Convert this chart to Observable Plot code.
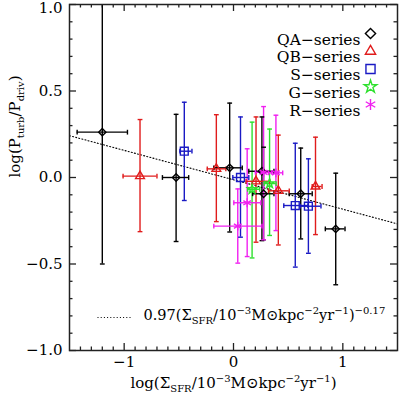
<!DOCTYPE html>
<html><head><meta charset="utf-8">
<script src="https://cdn.jsdelivr.net/npm/d3@7"></script>
<script src="https://cdn.jsdelivr.net/npm/@observablehq/plot@0.6"></script>
<style>html,body{margin:0;padding:0;background:#fff} svg{display:block}</style>
</head><body><div id="chart"></div>
<script>
// ---- series meta ----
const seriesNames = ["QA\u2212series", "QB\u2212series", "S\u2212series", "G\u2212series", "R\u2212series"];
const seriesColors = ["#000000", "#e01c1c", "#1a1ac4", "#2ee02e", "#f020f0"];
const seriesSymbols = ["diamond2", "triangle2", "square2", "star", "asterisk"];

// ---- data: x = log(SigmaSFR), y = log(Pturb/Pdriv), with error ranges ----
const qaX   = [-1.20, -0.525, -0.035, 0.26, 0.275, 0.615, 0.935];
const qaY   = [ 0.262, 0.000, 0.056, 0.036, -0.094, -0.094, -0.297];
const qaXlo = [-1.43, -0.65, -0.18, 0.14, 0.175, 0.51, 0.84];
const qaXhi = [-0.97, -0.41, 0.08, 0.37, 0.37, 0.72, 1.02];
const qaYlo = [-0.50, -0.37, -0.315, -0.365, -0.36, -0.355, -0.62];
const qaYhi = [ 1.06, 0.365, 0.43, 0.35, 0.175, 0.17, 0.025];

const qbX   = [-0.855, -0.157, 0.206, 0.41, 0.75];
const qbY   = [ 0.008, 0.050, -0.022, -0.077, -0.052];
const qbXlo = [-1.01, -0.24, 0.115, 0.32, 0.72];
const qbXhi = [-0.70, -0.07, 0.33, 0.51, 0.81];
const qbYlo = [-0.313, -0.255, -0.374, -0.39, -0.33];
const qbYhi = [ 0.335, 0.363, 0.35, 0.245, 0.233];

const sX   = [-0.45, 0.064, 0.565, 0.685];
const sY   = [ 0.152, 0.000, -0.162, -0.166];
const sXlo = [-0.49, -0.006, 0.46, 0.61];
const sXhi = [-0.38, 0.14, 0.68, 0.80];
const sYlo = [-0.133, -0.345, -0.518, -0.438];
const sYhi = [ 0.435, 0.35, 0.198, 0.108];

const gX   = [0.17, 0.33];
const gY   = [-0.068, -0.035];
const gXlo = [0.13, 0.28];
const gXhi = [0.24, 0.39];
const gYlo = [-0.465, -0.335];
const gYhi = [ 0.32, 0.28];

const rX   = [0.039, 0.125, 0.275, 0.388];
const rY   = [-0.281, -0.146, 0.030, 0.027];
const rXlo = [-0.18, 0.003, 0.20, 0.32];
const rXhi = [ 0.26, 0.25, 0.35, 0.45];
const rYlo = [-0.495, -0.457, -0.36, -0.307];
const rYhi = [-0.066, 0.166, 0.41, 0.36];

// fit: 0.97 (Sigma/1e-3)^-0.17
const fitCoef = 0.97, fitSlope = -0.17;
const fitXs = [-1.5, 1.5];

// ticks
const xMajor = [-1, 0, 1];
const yMajor = [-1, -0.5, 0, 0.5, 1];
const xMinor = d3.range(-14, 15).map(d => d / 10).filter(d => !xMajor.some(m => Math.abs(m - d) < 1e-9));
const yMinor = d3.range(-9, 10).map(d => d / 10).filter(d => !yMajor.some(m => Math.abs(m - d) < 1e-9));

// ---- build table ----
const groups = [
  [qaX, qaY, qaXlo, qaXhi, qaYlo, qaYhi],
  [qbX, qbY, qbXlo, qbXhi, qbYlo, qbYhi],
  [sX, sY, sXlo, sXhi, sYlo, sYhi],
  [gX, gY, gXlo, gXhi, gYlo, gYhi],
  [rX, rY, rXlo, rXhi, rYlo, rYhi]
];
const rows = [];
groups.forEach((g, si) => g[0].forEach((x, i) => rows.push({
  s: si, x, y: g[1][i], xlo: g[2][i], xhi: g[3][i], ylo: g[4][i], yhi: g[5][i]
})));
const fitRows = fitXs.map(x => ({x, y: Math.log10(fitCoef) + fitSlope * x}));

// custom cap symbols
const hCap = {draw(ctx, size) { const r = Math.sqrt(size / Math.PI); ctx.moveTo(-r, 0); ctx.lineTo(r, 0); }};
const vCap = {draw(ctx, size) { const r = Math.sqrt(size / Math.PI); ctx.moveTo(0, -r); ctx.lineTo(0, r); }};

const W = 400, H = 395, mL = 69, mR = 3, mT = 4, mB = 45;
const plotW = W - mL - mR, plotH = H - mT - mB;
const majLen = 7, minLen = 3.5;
const axisCol = "#222";
const col = d => seriesColors[d.s];

const marks = [];
// inward ticks
marks.push(
  Plot.ruleX(xMajor, {x: d => d, insetTop: plotH - majLen, stroke: axisCol, strokeWidth: 1.3}),
  Plot.ruleX(xMinor, {x: d => d, insetTop: plotH - minLen, stroke: axisCol, strokeWidth: 1.3}),
  Plot.ruleX(xMajor, {x: d => d, insetBottom: plotH - majLen, stroke: axisCol, strokeWidth: 1.3}),
  Plot.ruleX(xMinor, {x: d => d, insetBottom: plotH - minLen, stroke: axisCol, strokeWidth: 1.3}),
  Plot.ruleY(yMajor, {y: d => d, insetRight: plotW - majLen, stroke: axisCol, strokeWidth: 1.3}),
  Plot.ruleY(yMinor, {y: d => d, insetRight: plotW - minLen, stroke: axisCol, strokeWidth: 1.3}),
  Plot.ruleY(yMajor, {y: d => d, insetLeft: plotW - majLen, stroke: axisCol, strokeWidth: 1.3}),
  Plot.ruleY(yMinor, {y: d => d, insetLeft: plotW - minLen, stroke: axisCol, strokeWidth: 1.3}),
  Plot.axisX(xMajor, {tickSize: 0, tickPadding: 6, label: null, tickFormat: d3.format("d"), fontSize: 15, fill: "#000"}),
  Plot.axisY(yMajor.filter(d => d < 1), {tickSize: 0, tickPadding: 7, label: null, tickFormat: d3.format(".1f"), fontSize: 15, fill: "#000"}),
  Plot.axisY(yMajor.filter(d => d >= 1), {tickSize: 0, tickPadding: 7, label: null, tickFormat: d3.format(".1f"), fontSize: 15, fill: "#000", dy: 4})
);
// fit line
marks.push(Plot.line(fitRows, {x: "x", y: "y", stroke: "#000", strokeWidth: 1.1, strokeDasharray: "1,2.2"}));
// error bars
marks.push(
  Plot.ruleX(rows, {x: "x", y1: "ylo", y2: "yhi", stroke: col, strokeWidth: 1.4, clip: true}),
  Plot.ruleY(rows, {y: "y", x1: "xlo", x2: "xhi", stroke: col, strokeWidth: 1.4, clip: true}),
  Plot.dot(rows, {x: "x", y: "yhi", symbol: hCap, r: 2.4, stroke: col, strokeWidth: 1.4, clip: true}),
  Plot.dot(rows, {x: "x", y: "ylo", symbol: hCap, r: 2.4, stroke: col, strokeWidth: 1.4, clip: true}),
  Plot.dot(rows, {x: "xlo", y: "y", symbol: vCap, r: 2.4, stroke: col, strokeWidth: 1.4, clip: true}),
  Plot.dot(rows, {x: "xhi", y: "y", symbol: vCap, r: 2.4, stroke: col, strokeWidth: 1.4, clip: true})
);
// points
const ptR = [3.3, 4.2, 5.0, 2.9, 4.2];
seriesSymbols.forEach((sym, si) => {
  marks.push(Plot.dot(rows.filter(d => d.s === si), {x: "x", y: "y", symbol: sym, r: ptR[si],
    stroke: seriesColors[si], fill: "none", strokeWidth: 1.4}));
});
// legend
const legR = [4.6, 4.9, 5.8, 4.0, 5.2];
seriesNames.forEach((name, i) => {
  const dy = 29 + i * 17.75;
  marks.push(
    Plot.text([name], {text: d => d, frameAnchor: "top-right", dx: -37, dy, textAnchor: "end", fontSize: 15.5, fill: "#000"}),
    Plot.dot([0], {frameAnchor: "top-right", dx: -27, dy, symbol: seriesSymbols[i], r: legR[i],
      stroke: seriesColors[i], fill: "none", strokeWidth: 1.4})
  );
});
// fit legend
marks.push(
  Plot.dot([0], {frameAnchor: "bottom-left", dx: 45.5, dy: -33, symbol: hCap, r: 17.5, stroke: "#000", strokeWidth: 1.1, strokeDasharray: "1,2.2"}),
  Plot.text(["FITLABEL"], {text: d => d, frameAnchor: "bottom-left", dx: 74, dy: -31, textAnchor: "start", fontSize: 14.5, fill: "#000"})
);
// axis titles
marks.push(
  Plot.text(["XLABEL"], {text: d => d, frameAnchor: "bottom", dy: 37, fontSize: 15, fill: "#000"}),
  Plot.text(["YLABEL"], {text: d => d, frameAnchor: "left", dx: -54, rotate: -90, fontSize: 15, fill: "#000"})
);
marks.push(Plot.frame({stroke: axisCol, strokeWidth: 1.5}));

const chart = Plot.plot({
  width: W, height: H,
  marginLeft: mL, marginRight: mR, marginTop: mT, marginBottom: mB,
  style: {fontFamily: "'DejaVu Serif', serif", fontSize: "15px", background: "#fff", color: "#000"},
  x: {domain: [-1.5, 1.5]},
  y: {domain: [-1, 1]},
  marks
});
document.getElementById("chart").appendChild(chart);

// ---- rich text (sub/superscripts) ----
const M = "\u2212";
const richMap = {
  FITLABEL: [["0.97(\u03A3", 0], ["SFR", -1], ["/10", 0], [M + "3", 1], ["M\u2299kpc", 0], [M + "2", 1], ["yr", 0], [M + "1", 1], [")", 0], [M + "0.17", 1]],
  XLABEL: [["log(\u03A3", 0], ["SFR", -1], ["/10", 0], [M + "3", 1], ["M\u2299kpc", 0], [M + "2", 1], ["yr", 0], [M + "1", 1], [")", 0]],
  YLABEL: [["log(P", 0], ["turb", -1], ["/P", 0], ["driv", -1], [")", 0]]
};
function rich(el, parts) {
  while (el.firstChild) el.removeChild(el.firstChild);
  let cur = 0;
  for (const [s, m] of parts) {
    const t = document.createElementNS("http://www.w3.org/2000/svg", "tspan");
    const target = m === 1 ? -6 : m === -1 ? 4 : 0;
    t.setAttribute("dy", target - cur);
    cur = target;
    if (m) t.setAttribute("font-size", "10");
    t.textContent = s;
    el.appendChild(t);
  }
}
chart.querySelectorAll("text").forEach(el => {
  const k = el.textContent.trim();
  if (richMap[k]) rich(el, richMap[k]);
});
</script>
</body></html>
